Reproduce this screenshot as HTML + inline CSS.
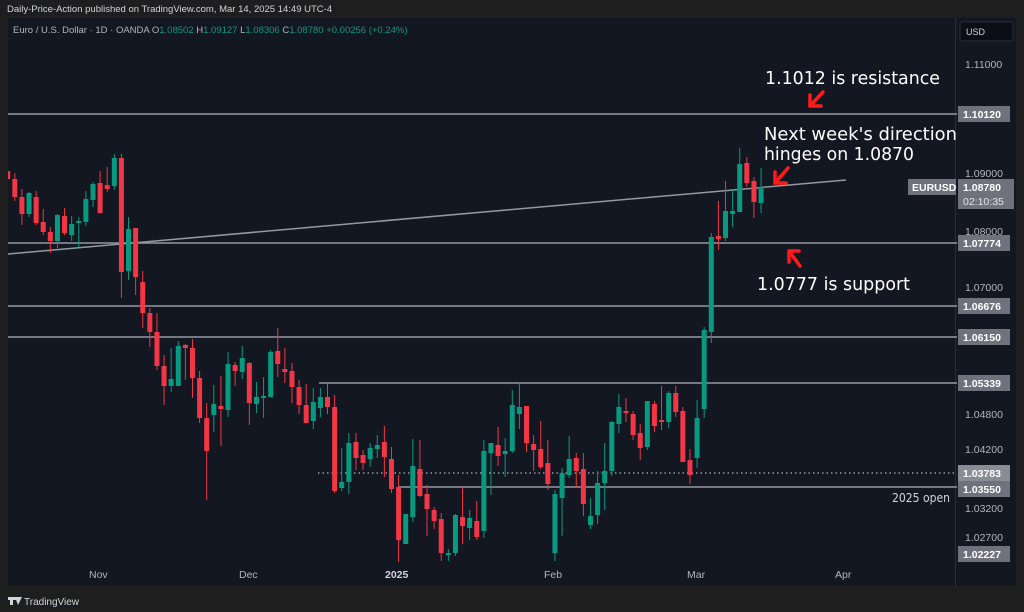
<!DOCTYPE html>
<html><head><meta charset="utf-8"><style>
html,body{margin:0;padding:0;background:#1e1e1e;}
body{width:1024px;height:612px;overflow:hidden;position:relative;font-family:"Liberation Sans",sans-serif;}
svg{position:absolute;left:0;top:0;}
</style></head><body>
<svg width="1024" height="612" xmlns="http://www.w3.org/2000/svg" font-family="Liberation Sans, sans-serif">
<defs><clipPath id="cp"><rect x="8" y="18" width="947" height="568"/></clipPath></defs>
<rect x="0" y="0" width="1024" height="612" fill="#1e1e1e"/>
<text x="7" y="12" fill="#d1d4dc" font-size="9.5">Daily-Price-Action published on TradingView.com, Mar 14, 2025 14:49 UTC-4</text>
<rect x="8" y="18" width="1008" height="568" fill="#131722"/>
<line x1="955.5" y1="18" x2="955.5" y2="586" stroke="#2a2e39" stroke-width="1"/>
<text x="13" y="33" font-size="9.5" fill="#b2b5be">Euro / U.S. Dollar · 1D · OANDA <tspan>O</tspan><tspan fill="#089981">1.08502</tspan> <tspan> H</tspan><tspan fill="#089981">1.09127</tspan><tspan> L</tspan><tspan fill="#089981">1.08306</tspan><tspan> C</tspan><tspan fill="#089981">1.08780 +0.00256 (+0.24%)</tspan></text>
<rect x="960" y="22" width="53" height="19" rx="2" fill="#0b0e14" stroke="#2a2e39"/>
<text x="966" y="35" font-size="9" fill="#d1d4dc">USD</text>
<g font-size="10.5" fill="#b2b5be">
<text x="965" y="68">1.11000</text>
<text x="965" y="177">1.09000</text>
<text x="965" y="235">1.08000</text>
<text x="965" y="291">1.07000</text>
<text x="965" y="418">1.04800</text>
<text x="965" y="453">1.04200</text>
<text x="965" y="512">1.03200</text>
<text x="965" y="541">1.02700</text>
</g>
<g stroke="#9598a1" stroke-width="1.5">
<line x1="8" y1="114" x2="957" y2="114"/>
<line x1="8" y1="243" x2="957" y2="243"/>
<line x1="8" y1="306" x2="957" y2="306"/>
<line x1="8" y1="337" x2="957" y2="337"/>
<line x1="319" y1="383" x2="957" y2="383"/>
<line x1="398" y1="487" x2="957" y2="487"/>
<line x1="318" y1="473" x2="957" y2="473" stroke-dasharray="1.5 3"/>
<line x1="8" y1="254" x2="846" y2="180"/>
</g>
<g id="c" clip-path="url(#cp)"></g>
<g font-size="10.5" font-weight="bold" fill="#fff">
<rect x="958" y="106" width="52" height="16" fill="#6f727d"/><text x="963" y="118">1.10120</text>
<rect x="958" y="235" width="52" height="16" fill="#6f727d"/><text x="963" y="247">1.07774</text>
<rect x="958" y="298" width="52" height="16" fill="#6f727d"/><text x="963" y="310">1.06676</text>
<rect x="958" y="329" width="52" height="16" fill="#6f727d"/><text x="963" y="341">1.06150</text>
<rect x="958" y="375" width="52" height="16" fill="#6f727d"/><text x="963" y="387">1.05339</text>
<rect x="958" y="465" width="52" height="16" fill="#8a8c93"/><text x="963" y="477">1.03783</text>
<rect x="958" y="481" width="52" height="16" fill="#6f727d"/><text x="963" y="493">1.03550</text>
<rect x="958" y="546" width="52" height="16" fill="#6f727d"/><text x="963" y="558">1.02227</text>
<rect x="908" y="179" width="48" height="16" fill="#6f727d"/><text x="912" y="191">EURUSD</text>
<rect x="958" y="179" width="56" height="30" fill="#6f727d"/><text x="963" y="191">1.08780</text>
<text x="963" y="205" font-weight="normal" fill="#e0e3eb">02:10:35</text>
</g>
<g font-family="DejaVu Sans, sans-serif" font-size="18" fill="#fff">
<text x="765" y="84" textLength="175" lengthAdjust="spacingAndGlyphs">1.1012 is resistance</text>
<text x="764" y="140" textLength="193" lengthAdjust="spacingAndGlyphs">Next week's direction</text>
<text x="764" y="160" textLength="150" lengthAdjust="spacingAndGlyphs">hinges on 1.0870</text>
<text x="757" y="290" textLength="153" lengthAdjust="spacingAndGlyphs">1.0777 is support</text>
<text x="892" y="502" font-size="12" fill="#d1d4dc" textLength="58" lengthAdjust="spacingAndGlyphs">2025 open</text>
</g>
<g stroke="#ff1a1a" stroke-width="3.5" fill="none" stroke-linecap="round" stroke-linejoin="round">
<path d="M823 92 L810 106 M810 95 L810 106 L821 106"/>
<path d="M788 168 L775 183 M775 172 L775 183 L786 183"/>
<path d="M800 266 L789 251 M789 262 L789 251 L799 251"/>
</g>
<g font-size="10.5" fill="#b2b5be">
<text x="89" y="578">Nov</text>
<text x="239" y="578">Dec</text>
<text x="385" y="578" font-weight="bold" fill="#d1d4dc">2025</text>
<text x="544" y="578">Feb</text>
<text x="687" y="578">Mar</text>
<text x="835" y="578">Apr</text>
</g>
<rect x="8" y="597" width="8" height="3" fill="#d1d4dc"/><rect x="10" y="597" width="3" height="8" fill="#d1d4dc"/><path d="M15 597 L22 597 L18 605 Z" fill="#d1d4dc"/>
<text x="24" y="605" font-size="10" fill="#d1d4dc">TradingView</text>
</svg>
<script>
var d=[
[171,179,171,179,0],[179,197,173,201,0],[197,214,189,225,0],[193,214,192,217,1],[197,223,191,225,0],[222,232,209,235,0],[232,241,227,253,0],[215,241,214,248,1],[216,233,208,235,0],[224,235,216,241,1],
[221,223,217,247,1],[199,222,191,226,1],[184,200,182,207,1],[183,213,171,213,0],[185,189,167,192,0],[158,186,154,190,1],[158,272,154,298,0],[229,271,217,280,1],[228,277,228,295,0],[282,313,271,328,0],
[313,332,308,347,0],[332,366,313,370,0],[366,386,355,405,0],[379,386,348,392,1],[346,386,341,386,1],[345,348,344,380,0],[348,378,339,398,0],[378,418,371,423,0],[418,451,403,500,0],[404,415,385,432,1],
[406,409,376,446,0],[364,410,352,417,1],[365,371,362,386,0],[358,372,346,379,1],[363,403,362,425,0],[397,404,382,413,1],[396,398,377,418,1],[352,397,350,397,1],[351,364,328,377,0],[369,372,348,383,0],
[371,387,363,403,0],[387,405,380,414,0],[405,423,384,423,0],[402,421,388,429,1],[397,408,388,417,1],[397,407,383,414,0],[407,491,395,493,0],[482,488,448,491,1],[443,482,433,494,1],[442,458,433,470,0],
[455,463,450,470,0],[448,459,443,467,1],[445,449,435,458,1],[442,457,426,477,0],[459,489,447,493,0],[487,540,475,562,0],[514,544,514,544,1],[466,517,439,522,1],[469,496,440,497,0],[494,509,485,536,0],
[510,521,507,529,0],[519,553,513,561,0],[553,555,549,561,1],[515,553,514,556,1],[517,526,487,544,0],[518,528,510,540,1],[521,537,501,540,0],[451,531,440,538,1],[443,453,443,495,1],[445,456,427,466,0],
[451,454,438,477,1],[405,451,390,453,1],[407,414,383,429,1],[406,443,406,452,0],[444,450,435,471,0],[449,467,421,469,0],[463,484,440,490,0],[494,553,490,561,1],[473,498,468,536,1],[459,475,436,478,1],
[458,471,453,488,0],[469,504,453,516,0],[516,525,498,529,1],[483,515,471,524,1],[471,483,443,510,1],[422,471,421,476,1],[407,424,394,433,1],[411,413,398,422,0],[414,435,411,440,0],[433,448,424,460,0],
[401,447,401,450,1],[404,426,401,432,0],[420,422,386,430,0],[393,422,391,428,1],[393,412,386,417,0],[411,462,407,462,0],[460,475,449,484,0],[418,458,400,468,1],[330,409,327,418,1],[237,332,233,343,1],
[236,239,201,250,0],[211,238,181,241,1],[211,214,190,227,1],[164,212,148,212,1],[163,183,157,187,0],[181,202,177,218,0],[187,203,168,213,1]];
var s='';
for(var i=0;i<d.length;i++){var c=d[i],x=7.7+7.107*i,col=c[4]?'#089981':'#f23645';
s+='<line x1="'+x+'" x2="'+x+'" y1="'+c[2]+'" y2="'+c[3]+'" stroke="'+col+'" stroke-width="1"/>';
s+='<rect x="'+(x-2.5)+'" y="'+c[0]+'" width="5" height="'+Math.max(1.5,c[1]-c[0])+'" fill="'+col+'"/>';}
document.getElementById('c').innerHTML=s;
</script>
</body></html>
